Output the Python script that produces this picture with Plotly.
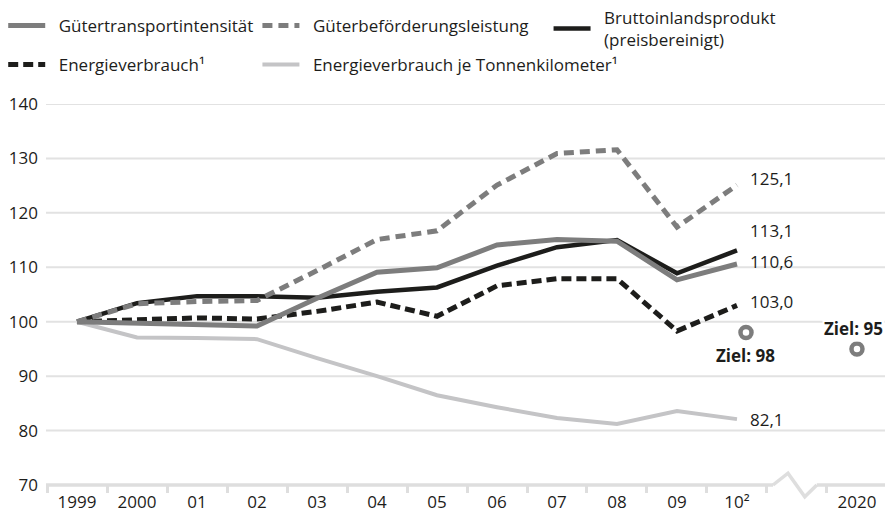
import plotly.graph_objects as go

# ---- data ----
year_labels = ["1999", "2000", "01", "02", "03", "04", "05", "06", "07", "08", "09", "10²"]
year_pos = list(range(12))
target_label = "2020"
target_pos = 13

guetertransportintensitaet = [100, 99.7, 99.3, 99.2, 104.3, 109.1, 109.9, 114.1, 115.1, 114.8, 107.7, 110.6]
gueterbefoerderung = [100, 103.3, 103.7, 103.9, 109.4, 115.1, 116.7, 125.1, 130.9, 131.6, 117.4, 125.1]
bip = [100, 103.4, 104.7, 104.7, 104.4, 105.5, 106.3, 110.3, 113.7, 115.0, 108.9, 113.1]
energie = [100, 100.3, 100.7, 100.5, 101.9, 103.6, 101.0, 106.6, 107.9, 107.9, 98.3, 103.0]
energie_tkm = [100, 97.1, 97.0, 96.8, 93.3, 90.0, 86.5, 84.3, 82.3, 81.2, 83.6, 82.1]

ziel_x = [11.15, 13]
ziel_y = [98, 95]
ziel_text = ["Ziel: 98", "Ziel: 95"]

y_ticks = [70, 80, 90, 100, 110, 120, 130, 140]
x_range = [-0.517, 13.467]
y_range = [70, 140]

FONT = "Open Sans"
FS = 17
TXT = "#1d1d1b"
GRID = "#e2e2e2"
C_GRAY = "#7d7d7d"
C_BLACK = "#1d1d1b"
C_LIGHT = "#c4c4c6"
SP = "\u2002"  # gap between legend symbol and text

fig = go.Figure()

fig.add_trace(go.Scatter(x=year_pos, y=energie_tkm, mode="lines", name=SP + "Energieverbrauch je Tonnenkilometer¹",
                         line=dict(color=C_LIGHT, width=4), legend="legend2", legendrank=2, legendgroup="e"))
fig.add_trace(go.Scatter(x=year_pos, y=energie, mode="lines", name=SP + "Energieverbrauch¹",
                         line=dict(color=C_BLACK, width=5, dash="10px,5px"), legend="legend", legendrank=2, legendgroup="d"))
fig.add_trace(go.Scatter(x=year_pos, y=bip, mode="lines", name=SP + "Bruttoinlandsprodukt<br>" + SP + "(preisbereinigt)",
                         line=dict(color=C_BLACK, width=4.5), legend="legend3", legendrank=1, legendgroup="c"))
fig.add_trace(go.Scatter(x=year_pos, y=guetertransportintensitaet, mode="lines", name=SP + "Gütertransportintensität",
                         line=dict(color=C_GRAY, width=5), legend="legend", legendrank=1, legendgroup="a"))
fig.add_trace(go.Scatter(x=year_pos, y=gueterbefoerderung, mode="lines", name=SP + "Güterbeförderungsleistung",
                         line=dict(color=C_GRAY, width=5, dash="10px,6px"), legend="legend2", legendrank=1, legendgroup="b"))

fig.add_trace(go.Scatter(x=ziel_x, y=ziel_y, mode="markers", showlegend=False, hoverinfo="skip",
                         marker=dict(symbol="circle-open", size=11, color=C_GRAY, line=dict(width=4.5, color=C_GRAY))))

# end value labels
end_series = [gueterbefoerderung, bip, guetertransportintensitaet, energie, energie_tkm]
end_shift = [7, 20, 3, 4, 0]
for s, sh in zip(end_series, end_shift):
    v = s[-1]
    fig.add_annotation(x=year_pos[-1], y=v, text=f"{v:.1f}".replace(".", ","), showarrow=False,
                       xanchor="left", xshift=11, yshift=sh, font=dict(family=FONT, size=FS, color=TXT))

# target labels
fig.add_annotation(x=ziel_x[0], y=ziel_y[0], text="<b>" + ziel_text[0] + "</b>", showarrow=False,
                   yshift=-23, font=dict(family=FONT, size=FS, color=TXT))
fig.add_annotation(xref="paper", x=1, xanchor="right", y=ziel_y[1], text="<b>" + ziel_text[1] + "</b>",
                   showarrow=False, yshift=20, bgcolor="white", font=dict(family=FONT, size=FS, color=TXT))

# gridlines
for v in y_ticks[1:]:
    fig.add_shape(type="line", xref="paper", yref="y", x0=0, x1=1, y0=v, y1=v,
                  line=dict(color=GRID, width=2), layer="below")

# baseline with axis break
def px(xv):
    return (xv - x_range[0]) / (x_range[1] - x_range[0])

brk = [11.6, 11.85, 12.13, 12.33]
base = dict(color="#dedede", width=3.5)
fig.add_shape(type="line", xref="paper", yref="paper", x0=0, x1=px(brk[0]), y0=0, y1=0, line=base)
fig.add_shape(type="line", xref="paper", yref="paper", x0=px(brk[3]), x1=1, y0=0, y1=0, line=base)
fig.add_shape(type="path", xref="paper", yref="paper",
              path=f"M {px(brk[0])} 0 L {px(brk[1])} 0.031 L {px(brk[2])} -0.031 L {px(brk[3])} 0",
              line=base)

leg_common = dict(xanchor="left", yanchor="top", orientation="v", itemwidth=37,
                  font=dict(family=FONT, size=FS, color=TXT), bgcolor="rgba(0,0,0,0)")

fig.update_layout(
    width=885, height=522,
    margin=dict(l=46, r=0, t=103, b=37),
    paper_bgcolor="white", plot_bgcolor="white",
    font=dict(family=FONT, size=FS, color=TXT),
    xaxis=dict(range=x_range, tickmode="array", tickvals=year_pos + [target_pos],
               ticktext=year_labels + [target_label], showgrid=False, zeroline=False, showline=False,
               ticks="", ticklabelstandoff=5,
               minor=dict(tickmode="array", tickvals=[i - 0.5 for i in range(13)] + [12.5],
                          ticks="outside", ticklen=7, tickwidth=3, tickcolor="#dedede", showgrid=False),
               tickfont=dict(family=FONT, size=FS, color=TXT)),
    yaxis=dict(range=y_range, tickmode="array", tickvals=y_ticks, showgrid=False, zeroline=False,
               showline=False, ticks="", ticklabelstandoff=7,
               tickfont=dict(family=FONT, size=FS, color=TXT)),
    legend=dict(x=-0.051, y=1.249, traceorder="grouped", tracegroupgap=14, **leg_common),
    legend2=dict(x=0.252, y=1.249, traceorder="grouped", tracegroupgap=14, **leg_common),
    legend3=dict(x=0.599, y=1.272, **leg_common),
    hovermode=False,
)

fig.write_html("out.html", config={"displayModeBar": False},
               post_script="document.body.style.margin='0px';")
